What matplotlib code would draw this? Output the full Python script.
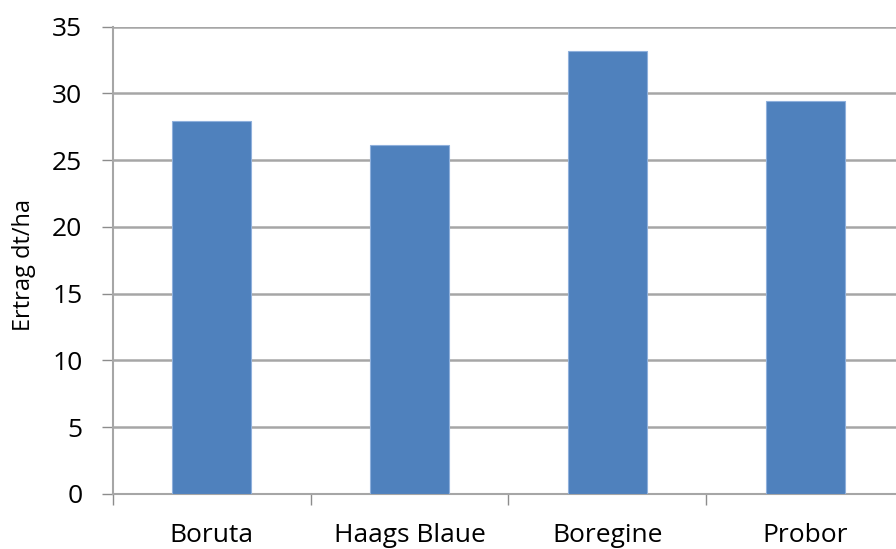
import matplotlib.pyplot as plt
import numpy as np

plt.rcParams['font.family'] = ['Open Sans', 'DejaVu Sans']

sorten = ["Boruta", "Haags Blaue", "Boregine", "Probor"]
ertrag = [27.9, 26.1, 33.2, 29.4]
y_ticks = [0, 5, 10, 15, 20, 25, 30, 35]

fig = plt.figure(figsize=(8.96, 5.49), dpi=100)
ax = fig.add_axes([0.1261, 0.1002, 0.8828, 0.8515])

x = np.arange(len(sorten))
ax.bar(x, ertrag, width=0.4, color="#4f81bd", edgecolor="#8fb0dc",
       linewidth=0.8, zorder=3)

ax.set_xlim(-0.5, len(sorten) - 0.5)
ax.set_ylim(0, 35)
ax.set_yticks(y_ticks)
ax.set_yticklabels([str(v) for v in y_ticks], fontsize=19)

# category ticks sit between the bars, labels centred under them
ax.set_xticks(np.arange(len(sorten) + 1) - 0.5)
ax.set_xticklabels([])
ax.set_xticks(x, minor=True)
ax.set_xticklabels(sorten, minor=True, fontsize=19)
ax.tick_params(axis="x", which="minor", length=0, pad=21)
ax.tick_params(axis="x", which="major", length=8, width=1, color="#8c8c8c",
               direction="out")
ax.tick_params(axis="y", length=8, width=1, color="#8c8c8c", pad=14)

ax.yaxis.grid(True, color="#a6a6a6", linewidth=1.8, zorder=0)
ax.set_axisbelow(True)

for s in ["top", "right"]:
    ax.spines[s].set_visible(False)
ax.spines["left"].set_color("#a6a6a6")
ax.spines["bottom"].set_color("#a6a6a6")
ax.spines["left"].set_linewidth(1.5)
ax.spines["bottom"].set_linewidth(1.5)

ax.set_ylabel("Ertrag dt/ha", fontsize=17)
ax.yaxis.set_label_coords(-0.097, 0.49)

fig.savefig("out.png", dpi=100)
